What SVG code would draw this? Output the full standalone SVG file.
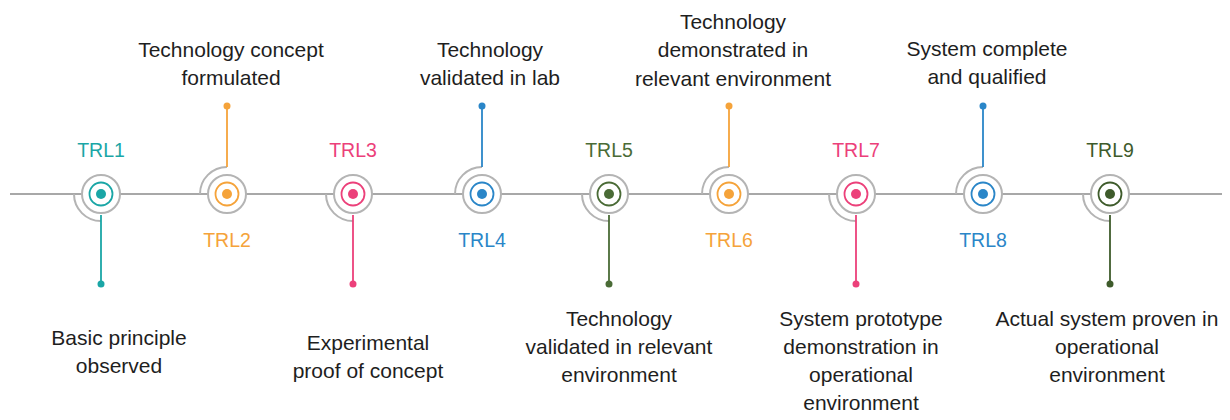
<svg xmlns="http://www.w3.org/2000/svg" width="1230" height="420" viewBox="0 0 1230 420">
<style>
.desc{font-family:"Liberation Sans",Arial,sans-serif;font-size:21px;fill:#1e1e1e;text-anchor:middle}
.lbl{font-family:"Liberation Sans",Arial,sans-serif;font-size:19.5px;text-anchor:middle}
.ring{fill:#fff;stroke:#b4b4b4;stroke-width:2}
.arc{fill:none;stroke:#b4b4b4;stroke-width:2}
.cring{fill:none;stroke-width:1.8}
.stem{stroke-width:1.8}
</style>
<rect width="1230" height="420" fill="#fff"/>
<g id="connectors">
<line x1="10" y1="194" x2="1222" y2="194" stroke="#a8a8a8" stroke-width="2"/>
</g>
<g id="trl1" transform="translate(101,194)" fill="#1aa6a6" stroke="#1aa6a6">
<path class="arc" d="M-27,0 A27,27 0 0 0 0,27"/>
<circle class="ring" r="19"/>
<circle class="cring" r="11.5"/>
<circle r="5" stroke="none"/>
<line class="stem" x1="0" y1="21" x2="0" y2="90"/>
<circle cy="90" r="3.5" stroke="none"/>
<text class="lbl" y="-37" stroke="none">TRL1</text>
</g>
<g id="trl2" transform="translate(227,194)" fill="#f5a33a" stroke="#f5a33a">
<path class="arc" d="M-27,0 A27,27 0 0 1 0,-27"/>
<circle class="ring" r="19"/>
<circle class="cring" r="11.5"/>
<circle r="5" stroke="none"/>
<line class="stem" x1="0" y1="-27" x2="0" y2="-88"/>
<circle cy="-88" r="3.5" stroke="none"/>
<text class="lbl" y="53" stroke="none">TRL2</text>
</g>
<g id="trl3" transform="translate(353,194)" fill="#ec407a" stroke="#ec407a">
<path class="arc" d="M-27,0 A27,27 0 0 0 0,27"/>
<circle class="ring" r="19"/>
<circle class="cring" r="11.5"/>
<circle r="5" stroke="none"/>
<line class="stem" x1="0" y1="21" x2="0" y2="90"/>
<circle cy="90" r="3.5" stroke="none"/>
<text class="lbl" y="-37" stroke="none">TRL3</text>
</g>
<g id="trl4" transform="translate(482,194)" fill="#2a86c8" stroke="#2a86c8">
<path class="arc" d="M-27,0 A27,27 0 0 1 0,-27"/>
<circle class="ring" r="19"/>
<circle class="cring" r="11.5"/>
<circle r="5" stroke="none"/>
<line class="stem" x1="0" y1="-27" x2="0" y2="-88"/>
<circle cy="-88" r="3.5" stroke="none"/>
<text class="lbl" y="53" stroke="none">TRL4</text>
</g>
<g id="trl5" transform="translate(609,194)" fill="#4a6b36" stroke="#4a6b36">
<path class="arc" d="M-27,0 A27,27 0 0 0 0,27"/>
<circle class="ring" r="19"/>
<circle class="cring" r="11.5"/>
<circle r="5" stroke="none"/>
<line class="stem" x1="0" y1="21" x2="0" y2="90"/>
<circle cy="90" r="3.5" stroke="none"/>
<text class="lbl" y="-37" stroke="none">TRL5</text>
</g>
<g id="trl6" transform="translate(729,194)" fill="#f5a33a" stroke="#f5a33a">
<path class="arc" d="M-27,0 A27,27 0 0 1 0,-27"/>
<circle class="ring" r="19"/>
<circle class="cring" r="11.5"/>
<circle r="5" stroke="none"/>
<line class="stem" x1="0" y1="-27" x2="0" y2="-88"/>
<circle cy="-88" r="3.5" stroke="none"/>
<text class="lbl" y="53" stroke="none">TRL6</text>
</g>
<g id="trl7" transform="translate(856,194)" fill="#ec407a" stroke="#ec407a">
<path class="arc" d="M-27,0 A27,27 0 0 0 0,27"/>
<circle class="ring" r="19"/>
<circle class="cring" r="11.5"/>
<circle r="5" stroke="none"/>
<line class="stem" x1="0" y1="21" x2="0" y2="90"/>
<circle cy="90" r="3.5" stroke="none"/>
<text class="lbl" y="-37" stroke="none">TRL7</text>
</g>
<g id="trl8" transform="translate(983,194)" fill="#2a86c8" stroke="#2a86c8">
<path class="arc" d="M-27,0 A27,27 0 0 1 0,-27"/>
<circle class="ring" r="19"/>
<circle class="cring" r="11.5"/>
<circle r="5" stroke="none"/>
<line class="stem" x1="0" y1="-27" x2="0" y2="-88"/>
<circle cy="-88" r="3.5" stroke="none"/>
<text class="lbl" y="53" stroke="none">TRL8</text>
</g>
<g id="trl9" transform="translate(1110,194)" fill="#3e5b2b" stroke="#3e5b2b">
<path class="arc" d="M-27,0 A27,27 0 0 0 0,27"/>
<circle class="ring" r="19"/>
<circle class="cring" r="11.5"/>
<circle r="5" stroke="none"/>
<line class="stem" x1="0" y1="21" x2="0" y2="90"/>
<circle cy="90" r="3.5" stroke="none"/>
<text class="lbl" y="-37" stroke="none">TRL9</text>
</g>
<g id="descriptions">
<text class="desc" x="119" y="345">Basic principle</text>
<text class="desc" x="119" y="373">observed</text>
<text class="desc" x="231" y="57">Technology concept</text>
<text class="desc" x="231" y="85">formulated</text>
<text class="desc" x="368" y="350">Experimental</text>
<text class="desc" x="368" y="378">proof of concept</text>
<text class="desc" x="490" y="57">Technology</text>
<text class="desc" x="490" y="85">validated in lab</text>
<text class="desc" x="619" y="326">Technology</text>
<text class="desc" x="619" y="354">validated in relevant</text>
<text class="desc" x="619" y="382">environment</text>
<text class="desc" x="733" y="29">Technology</text>
<text class="desc" x="733" y="57">demonstrated in</text>
<text class="desc" x="733" y="86">relevant environment</text>
<text class="desc" x="987" y="56">System complete</text>
<text class="desc" x="987" y="84">and qualified</text>
<text class="desc" x="861" y="326">System prototype</text>
<text class="desc" x="861" y="354">demonstration in</text>
<text class="desc" x="861" y="382">operational</text>
<text class="desc" x="861" y="410">environment</text>
<text class="desc" x="1107" y="326">Actual system proven in</text>
<text class="desc" x="1107" y="354">operational</text>
<text class="desc" x="1107" y="382">environment</text>
</g>
</svg>
